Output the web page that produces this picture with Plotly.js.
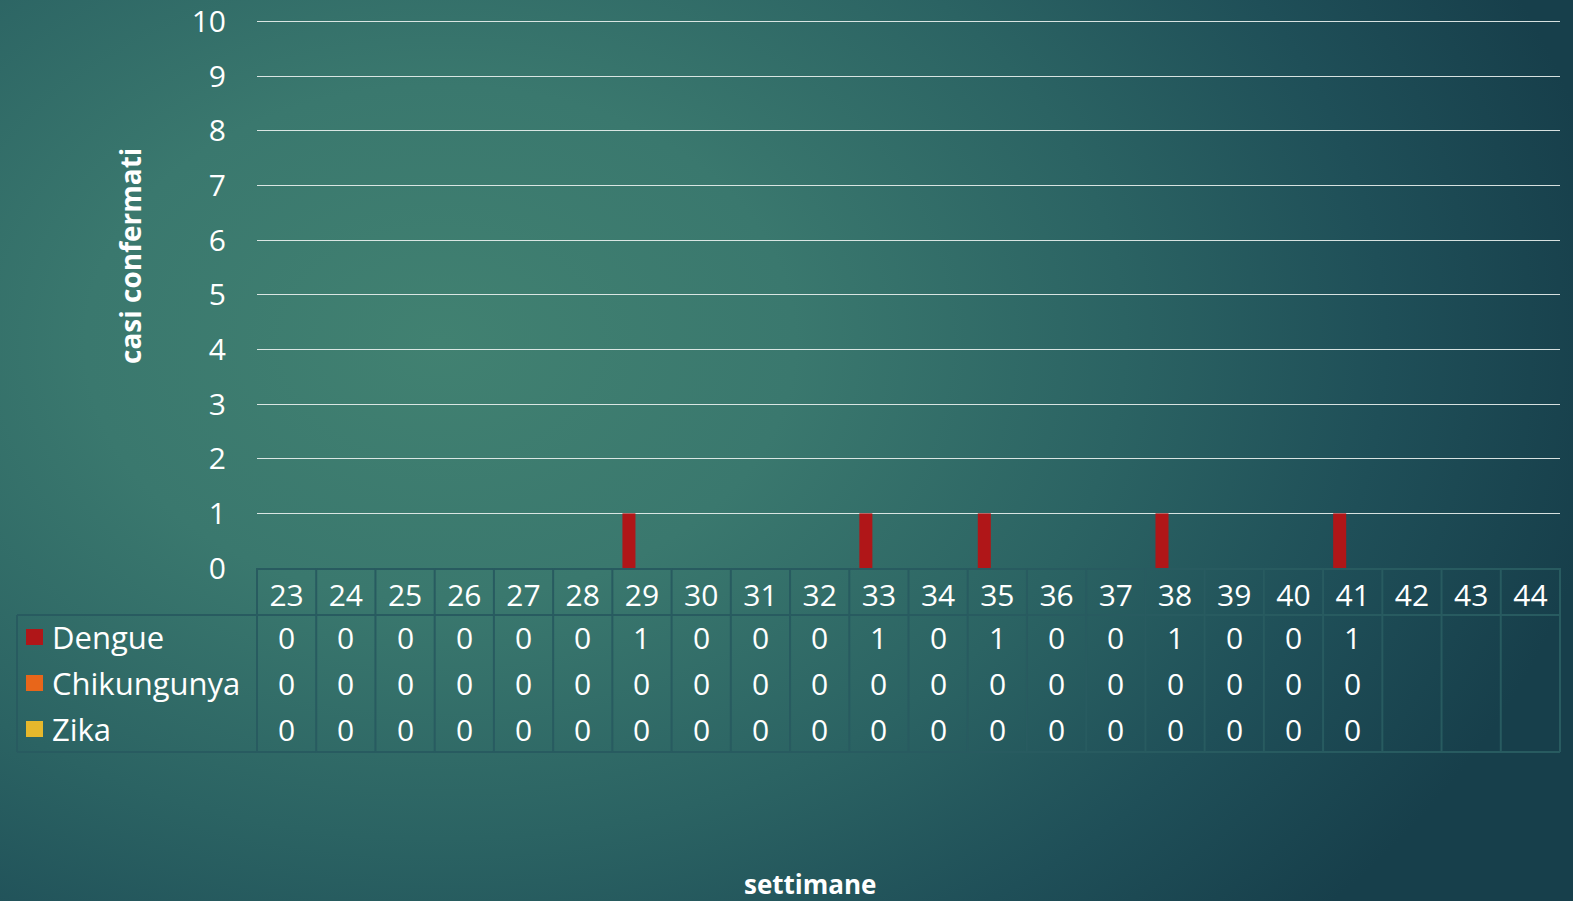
<!DOCTYPE html>
<html>
<head>
<meta charset="utf-8">
<script src="https://cdn.plot.ly/plotly-3.0.1.min.js"></script>
<style>
  html, body { margin: 0; padding: 0; }
  body {
    width: 1573px; height: 901px; overflow: hidden;
    background: radial-gradient(ellipse 75% 95% at 28% 38%, #418171 0%, #3a786e 30%, #2b6363 58%, #1f4f58 80%, #173f4b 100%);
  }
  #chart { width: 1573px; height: 901px; }
</style>
</head>
<body>
<div id="chart"></div>
<script>
// ---- data ----
const weeks = ['23','24','25','26','27','28','29','30','31','32','33','34','35','36','37','38','39','40','41','42','43','44'];
const dengue      = [0,0,0,0,0,0,1,0,0,0,1,0,1,0,0,1,0,0,1,null,null,null];
const chikungunya = [0,0,0,0,0,0,0,0,0,0,0,0,0,0,0,0,0,0,0,null,null,null];
const zika        = [0,0,0,0,0,0,0,0,0,0,0,0,0,0,0,0,0,0,0,null,null,null];
const yTicks = [0,1,2,3,4,5,6,7,8,9,10];
const seriesNames  = ['Dengue','Chikungunya','Zika'];
const seriesColors = ['#b01618','#e8661a','#e6b82c'];
const yTitle = 'casi confermati';
const xTitle = 'settimane';

const seriesData = [dengue, chikungunya, zika];
const FONT = 'Open Sans, sans-serif';
const W = 1573, H = 901;
const mL = 257, mR = 13, mT = 19, mB = 333;
const plotW = W - mL - mR, plotH = H - mT - mB;
const py = p => (H - mB - p) / plotH;      // pixel y -> paper y
const px = p => (p - mL) / plotW;          // pixel x -> paper x
const lineCol = '#285b60';

const traces = seriesData.map((vals, k) => ({
  type: 'bar', name: seriesNames[k], x: weeks, y: vals,
  marker: { color: seriesColors[k], line: { width: 0 } },
  hoverinfo: 'x+y+name'
}));

const headerBottom = 615, tableBottom = 752;
const rowCenters = [637, 683, 729];
const shapes = [];
const annotations = [];

shapes.push({ type: 'line', xref: 'paper', yref: 'paper', x0: px(17), x1: 1, y0: py(headerBottom), y1: py(headerBottom), line: { color: lineCol, width: 2 } });
shapes.push({ type: 'line', xref: 'paper', yref: 'paper', x0: px(17), x1: 1, y0: py(tableBottom), y1: py(tableBottom), line: { color: lineCol, width: 2 } });
shapes.push({ type: 'line', xref: 'paper', yref: 'paper', x0: px(17), x1: px(17), y0: py(headerBottom), y1: py(tableBottom), line: { color: lineCol, width: 2 } });
for (let i = 0; i <= weeks.length; i++) {
  const xp = i / weeks.length;
  shapes.push({ type: 'line', xref: 'paper', yref: 'paper', x0: xp, x1: xp, y0: 0, y1: py(tableBottom), line: { color: lineCol, width: 2 } });
}
seriesData.forEach((vals, k) => {
  const yc = rowCenters[k];
  shapes.push({ type: 'rect', xref: 'paper', yref: 'paper', x0: px(26), x1: px(43), y0: py(yc + 8), y1: py(yc - 8), fillcolor: seriesColors[k], line: { width: 0 } });
  annotations.push({ xref: 'paper', yref: 'paper', x: px(50), y: py(yc), xanchor: 'left', yanchor: 'middle', showarrow: false, text: seriesNames[k], font: { family: FONT, size: 31, color: '#ffffff' } });
  vals.forEach((v, i) => {
    if (v === null) return;
    annotations.push({ xref: 'x', yref: 'paper', x: i, y: py(yc), xanchor: 'center', yanchor: 'middle', showarrow: false, text: String(v), font: { family: FONT, size: 30, color: '#ffffff' } });
  });
});
annotations.push({ xref: 'paper', yref: 'paper', x: px(810), y: py(884), xanchor: 'center', yanchor: 'middle', showarrow: false, text: '<b>' + xTitle + '</b>', font: { family: FONT, size: 26, color: '#ffffff' } });
annotations.push({ xref: 'paper', yref: 'paper', x: px(130), y: py(256), xanchor: 'center', yanchor: 'middle', textangle: -90, showarrow: false, text: '<b>' + yTitle + '</b>', font: { family: FONT, size: 28, color: '#ffffff' } });

const layout = {
  width: W, height: H,
  margin: { l: mL, r: mR, t: mT, b: mB, autoexpand: false },
  paper_bgcolor: 'rgba(0,0,0,0)', plot_bgcolor: 'rgba(0,0,0,0)',
  barmode: 'group', bargap: 0.34, bargroupgap: 0,
  showlegend: false,
  font: { family: FONT, color: '#ffffff' },
  xaxis: {
    type: 'category', range: [-0.5, weeks.length - 0.5],
    tickmode: 'array', tickvals: weeks, ticktext: weeks,
    tickfont: { family: FONT, size: 30, color: '#ffffff' },
    showgrid: false, zeroline: false, showline: true, linecolor: lineCol, linewidth: 2,
    ticks: 'outside', ticklen: 0, tickcolor: 'rgba(0,0,0,0)', automargin: false, fixedrange: true
  },
  yaxis: {
    range: [0, 10.05], tickmode: 'array', tickvals: yTicks,
    tickfont: { family: FONT, size: 30, color: '#ffffff' },
    showgrid: true, gridcolor: 'rgba(235,242,240,0.9)', gridwidth: 1,
    zeroline: false, showline: false,
    ticks: 'outside', ticklen: 24, tickcolor: 'rgba(0,0,0,0)',
    automargin: false, fixedrange: true
  },
  shapes: shapes,
  annotations: annotations
};

Plotly.newPlot('chart', traces, layout, { displayModeBar: false, staticPlot: true });
</script>
</body>
</html>
